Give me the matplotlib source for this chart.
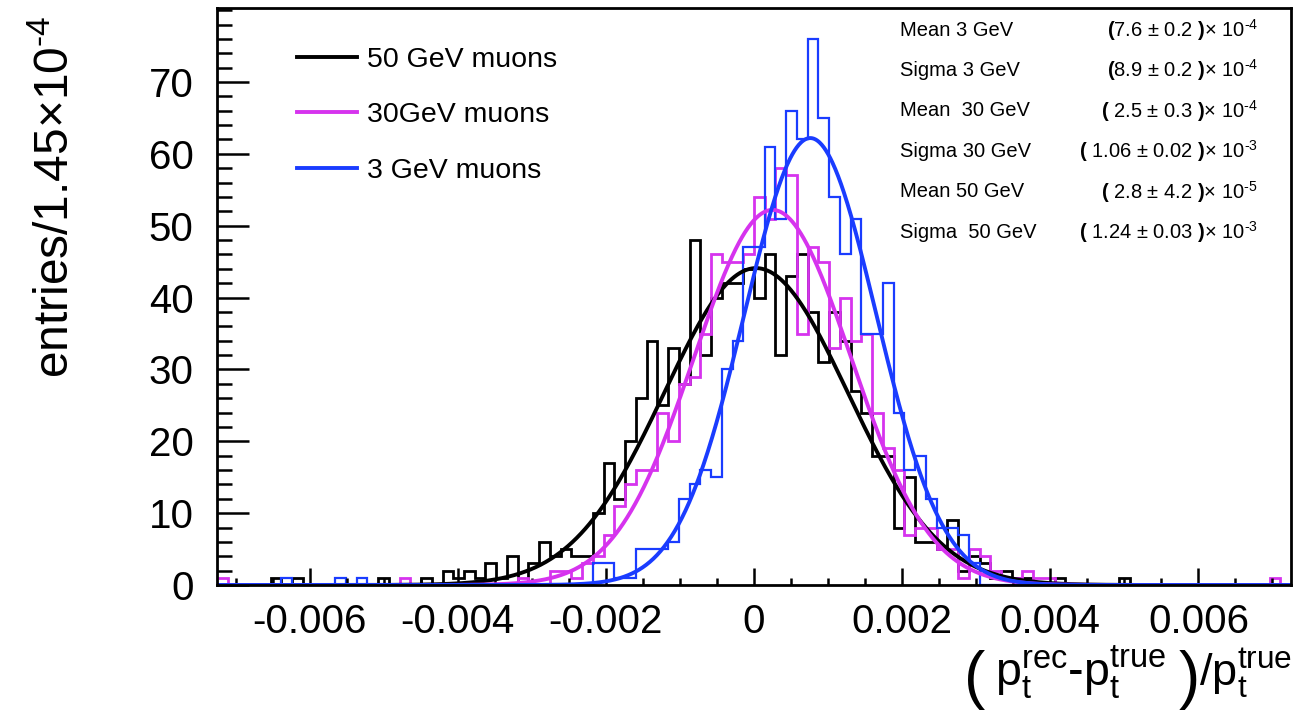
import numpy as np
import matplotlib
matplotlib.use("Agg")
import matplotlib.pyplot as plt
from matplotlib.ticker import MultipleLocator

plt.rcParams['font.family'] = ['Liberation Sans', 'DejaVu Sans']
plt.rcParams['mathtext.fontset'] = 'custom'
plt.rcParams['mathtext.rm'] = 'Liberation Sans'
plt.rcParams['mathtext.it'] = 'Liberation Sans'
plt.rcParams['mathtext.bf'] = 'Liberation Sans:bold'

# ---- data ----
x_low, x_high, n_bins = -0.00725, 0.00725, 100

# bins j = -50 .. 49
counts_50 = [0, 0, 0, 0, 0, 1, 0, 1, 0, 0,
             0, 0, 0, 0, 0, 1, 0, 0, 0, 1,
             0, 2, 1, 2, 1, 3, 1, 4, 0, 3,
             6, 4, 5, 4, 4, 10, 17, 12, 20, 26,
             34, 25, 33, 28, 48, 32, 40, 42, 42, 44,
             40, 46, 32, 43, 46, 38, 31, 38, 34, 27,
             24, 18, 18, 8, 15, 6, 6, 5, 9, 2,
             4, 3, 1, 2, 1, 1, 0, 0, 1, 0,
             0, 0, 0, 0, 1, 0, 0, 0, 0, 0,
             0, 0, 0, 0, 0, 0, 0, 0, 0, 0]
counts_30 = [1, 0, 0, 0, 0, 0, 0, 0, 0, 0,
             0, 0, 0, 0, 0, 0, 0, 1, 0, 0,
             0, 0, 0, 0, 0, 0, 0, 0, 1, 0,
             0, 2, 2, 1, 3, 4, 7, 11, 14, 16,
             16, 24, 20, 28, 29, 35, 46, 45, 45, 46,
             54, 51, 58, 57, 35, 47, 45, 33, 40, 34,
             35, 24, 19, 16, 7, 8, 8, 5, 5, 1,
             5, 4, 2, 1, 1, 2, 1, 1, 0, 0,
             0, 0, 0, 0, 0, 0, 0, 0, 0, 0,
             0, 0, 0, 0, 0, 0, 0, 0, 1, 0]
counts_3 = [0, 0, 0, 0, 0, 0, 1, 0, 0, 0,
            0, 1, 0, 1, 0, 0, 0, 0, 0, 0,
            0, 0, 0, 0, 0, 0, 0, 0, 0, 0,
            0, 0, 0, 0, 0, 3, 3, 1, 1, 5,
            5, 5, 6, 12, 14, 16, 15, 30, 34, 47,
            47, 61, 51, 66, 62, 76, 65, 54, 46, 51,
            35, 35, 42, 24, 16, 18, 12, 8, 8, 7,
            3, 0, 0, 0, 0, 0, 0, 0, 0, 0,
            0, 0, 0, 0, 0, 0, 0, 0, 0, 0,
            0, 0, 0, 0, 0, 0, 0, 0, 0, 0]

# Gaussian fit parameters: (amplitude, mean, sigma)
fit_50 = (44.1, 2.8e-5, 1.24e-3)
fit_30 = (52.2, 2.5e-4, 1.06e-3)
fit_3 = (62.2, 7.6e-4, 8.9e-4)

labels = ["50 GeV muons", "30GeV muons", "3 GeV muons"]
xtick_vals = [-0.006, -0.004, -0.002, 0, 0.002, 0.004, 0.006]
xtick_labels = ["-0.006", "-0.004", "-0.002", "0", "0.002", "0.004", "0.006"]
ytick_vals = [0, 10, 20, 30, 40, 50, 60, 70]

stat_names = ["Mean 3 GeV", "Sigma 3 GeV", "Mean  30 GeV", "Sigma 30 GeV",
              "Mean 50 GeV", "Sigma  50 GeV"]
stat_values = [r"$\mathbf{(}$7.6 ± 0.2 $\mathbf{)}$× 10$^{\text{-}4}$",
               r"$\mathbf{(}$8.9 ± 0.2 $\mathbf{)}$× 10$^{\text{-}4}$",
               r"$\mathbf{(}$ 2.5 ± 0.3 $\mathbf{)}$× 10$^{\text{-}4}$",
               r"$\mathbf{(}$ 1.06 ± 0.02 $\mathbf{)}$× 10$^{\text{-}3}$",
               r"$\mathbf{(}$ 2.8 ± 4.2 $\mathbf{)}$× 10$^{\text{-}5}$",
               r"$\mathbf{(}$ 1.24 ± 0.03 $\mathbf{)}$× 10$^{\text{-}3}$"]

# ---- figure ----
W, H = 1297, 716
fig = plt.figure(figsize=(W / 100, H / 100), dpi=100)
ax = fig.add_axes([217 / W, 1 - 585 / H, (1291 - 217) / W, (585 - 8) / H])

edges = np.linspace(x_low, x_high, n_bins + 1)
col_black = "#000000"
col_mag = "#d633ee"
col_blue = "#1a3cff"

ax.stairs(counts_50, edges, color=col_black, lw=2.0, baseline=None)
ax.stairs(counts_30, edges, color=col_mag, lw=2.0, baseline=None)
ax.stairs(counts_3, edges, color=col_blue, lw=1.6, baseline=None)

xs = np.linspace(x_low, x_high, 1500)
for (a, m, s), c in zip([fit_50, fit_30, fit_3], [col_black, col_mag, col_blue]):
    ax.plot(xs, a * np.exp(-0.5 * ((xs - m) / s) ** 2), color=c, lw=2.8)

ax.set_xlim(x_low, x_high)
ax.set_ylim(0, 80.3)
ax.set_xticks(xtick_vals)
ax.set_xticklabels(xtick_labels)
ax.set_yticks(ytick_vals)
ax.xaxis.set_minor_locator(MultipleLocator(0.0005))
ax.yaxis.set_minor_locator(MultipleLocator(2))
ax.tick_params(axis='both', which='both', direction='in', top=False, right=False,
               labelsize=29, width=1.8)
ax.tick_params(axis='x', which='major', length=12, pad=13)
ax.tick_params(axis='x', which='minor', length=5)
ax.tick_params(axis='y', which='major', length=23, pad=17)
ax.tick_params(axis='y', which='minor', length=11)
for sp in ax.spines.values():
    sp.set_linewidth(2.0)

# legend
handles = [plt.Line2D([], [], color=c, lw=2.8) for c in [col_black, col_mag, col_blue]]
ax.legend(handles, labels, loc='upper left', bbox_to_anchor=(0.051, 0.977),
          frameon=False, fontsize=20.5, handlelength=2.1, handletextpad=0.35,
          labelspacing=1.03)

# stats box
for i, (n, v) in enumerate(zip(stat_names, stat_values)):
    y = 1 - (30 + i * 40.4) / H
    fig.text(900 / W, y, n, fontsize=14.5, ha='left', va='center')
    fig.text(1258 / W, y, v, fontsize=14.5, ha='right', va='center')

# axis titles
fig.text(56 / W, 1 - 197 / H, r"entries/1.45$\times$10$^{\text{-}4}$", rotation=90,
         fontsize=34.5, ha='center', va='center')

fig.canvas.draw()
renderer = fig.canvas.get_renderer()
yb = 1 - 686 / H
yp = 1 - 697 / H
t3 = fig.text(1292 / W, yb, r"/p$_{\mathrm{t}}^{\mathrm{true}}$", fontsize=32.5,
              ha='right', va='baseline')
x_left = t3.get_window_extent(renderer).x0
t2 = fig.text((x_left + 1) / W, yp, ")", fontsize=46, ha='right', va='baseline')
x_left = t2.get_window_extent(renderer).x0
t1 = fig.text((x_left - 12) / W, yb,
              r"p$_{\mathrm{t}}^{\mathrm{rec}}$-p$_{\mathrm{t}}^{\mathrm{true}}$",
              fontsize=33.5, ha='right', va='baseline')
x_left = t1.get_window_extent(renderer).x0
fig.text((x_left - 10) / W, yp, "(", fontsize=46, ha='right', va='baseline')

fig.savefig("out.png", dpi=100)
